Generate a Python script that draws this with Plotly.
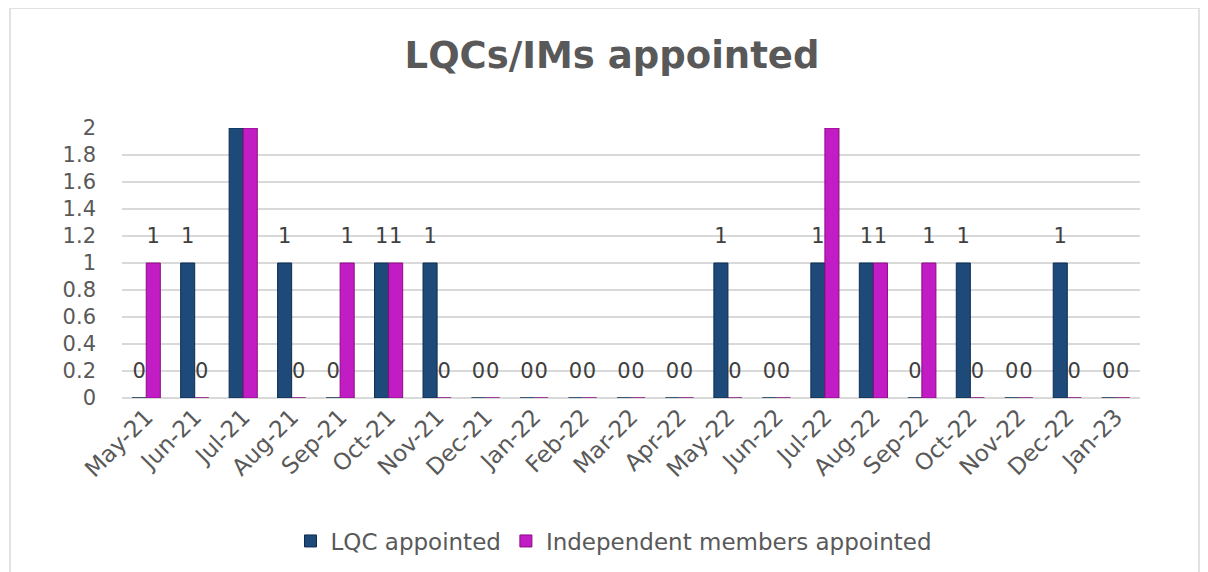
import plotly.graph_objects as go

months = ["May-21", "Jun-21", "Jul-21", "Aug-21", "Sep-21", "Oct-21", "Nov-21",
          "Dec-21", "Jan-22", "Feb-22", "Mar-22", "Apr-22", "May-22", "Jun-22",
          "Jul-22", "Aug-22", "Sep-22", "Oct-22", "Nov-22", "Dec-22", "Jan-23"]
lqc = [0, 1, 2, 1, 0, 1, 1, 0, 0, 0, 0, 0, 1, 0, 1, 1, 0, 1, 0, 1, 0]
im = [1, 0, 2, 0, 1, 1, 0, 0, 0, 0, 0, 0, 0, 0, 2, 1, 1, 0, 0, 0, 0]
y_ticks = [0, 0.2, 0.4, 0.6, 0.8, 1, 1.2, 1.4, 1.6, 1.8, 2]

FONT = "DejaVu Sans"
GREY = "#595959"
BW = 0.29
idx = list(range(len(months)))

# page is rendered with an 8px body offset -> compensate
OFF = 8
L, R, T, B = 96 - OFF, 68 + OFF, 128 - OFF, 174 + OFF
PW, PH = 1208 - L - R, 572 - T - B
PAPER0 = L + OFF  # page x of paper x=0
dom0 = (122 - PAPER0) / PW

fig = go.Figure()
fig.add_trace(go.Bar(x=idx, y=lqc, name="LQC appointed", width=BW, offset=-BW,
                     marker=dict(color="#1d4a78", line=dict(color="#0d2c50", width=1))))
fig.add_trace(go.Bar(x=idx, y=im, name="Independent members appointed", width=BW, offset=0,
                     marker=dict(color="#c21cc4", line=dict(color="#8a0c80", width=1))))

# data labels
fig.add_trace(go.Scatter(x=[i - BW / 2 for i in idx], y=[v + 0.19 for v in lqc], mode="text",
                         text=[str(v) for v in lqc], textposition="middle center",
                         textfont=dict(family=FONT, size=21, color="#404040"),
                         showlegend=False, hoverinfo="skip", cliponaxis=False))
fig.add_trace(go.Scatter(x=[i + BW / 2 for i in idx], y=[v + 0.19 for v in im], mode="text",
                         text=[str(v) for v in im], textposition="middle center",
                         textfont=dict(family=FONT, size=21, color="#404040"),
                         showlegend=False, hoverinfo="skip", cliponaxis=False))

fig.update_layout(
    width=1208, height=572,
    margin=dict(l=L, r=R, t=T, b=B, autoexpand=False),
    paper_bgcolor="white", plot_bgcolor="white",
    title=dict(text="<b>LQCs/IMs appointed</b>", x=(612 - OFF) / 1208, xanchor="center",
               y=1 - (55 - OFF) / 572, yanchor="middle",
               font=dict(family=FONT, size=37, color=GREY)),
    font=dict(family=FONT, color=GREY, size=20),
    barmode="overlay",
    xaxis=dict(domain=[dom0, 1], range=[-0.5, len(months) - 0.5], tickvals=idx, ticktext=months,
               tickangle=-45, showgrid=False, zeroline=False, showline=False, ticks="",
               automargin=False, tickfont=dict(family=FONT, size=23, color=GREY)),
    yaxis=dict(anchor="free", position=0, range=[0, 2.0], tickvals=y_ticks,
               ticktext=[f"{t:g}" for t in y_ticks],
               showgrid=True, gridcolor="#d9d9d9", gridwidth=2, zeroline=True,
               zerolinecolor="#d9d9d9", zerolinewidth=2, showline=False,
               ticks="", automargin=False,
               tickfont=dict(family=FONT, size=21, color=GREY)),
    legend=dict(orientation="h", x=(614 - PAPER0) / PW, xanchor="center",
                y=-(541 - 398) / PH, yanchor="middle",
                font=dict(family=FONT, size=23, color=GREY)),
    shapes=[dict(type="rect", xref="paper", yref="paper",
                 x0=(10 - PAPER0) / PW, x1=(1199 - PAPER0) / PW,
                 y0=(398 - 600) / PH, y1=(398 - 8) / PH,
                 line=dict(color="#d9d9d9", width=1.5), fillcolor="rgba(0,0,0,0)", layer="below")],
)

fig.write_html("out.html")
